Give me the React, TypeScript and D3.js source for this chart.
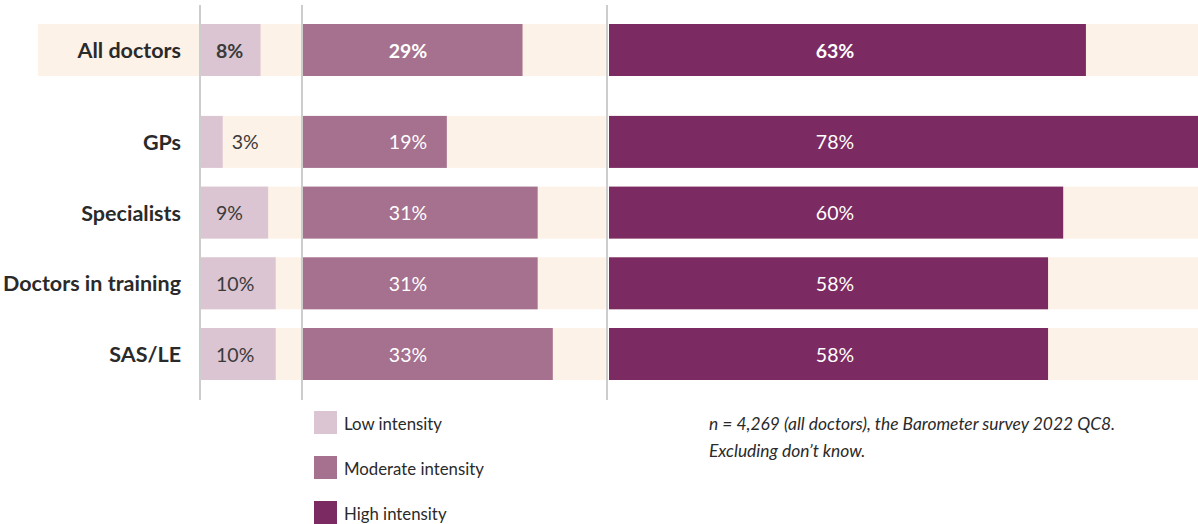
import React from "react";
import * as d3 from "d3";

const categories = ["All doctors", "GPs", "Specialists", "Doctors in training", "SAS/LE"];
const lowValues = [8, 3, 9, 10, 10];
const moderateValues = [29, 19, 31, 31, 33];
const highValues = [63, 78, 60, 58, 58];
const seriesNames = ["Low intensity", "Moderate intensity", "High intensity"];
const panelMax = [13.4, 40, 78];
const note = ["n = 4,269 (all doctors), the Barometer survey 2022 QC8.", "Excluding don\u2019t know."];

const COLORS = ["#dbc5d2", "#a5718e", "#7b2a62"];
const BG = "#fdf2e7";
const FONT = "Lato, 'Noto Sans', sans-serif";

export default function App() {
  const W = 1198, H = 524;
  const pxPerPct = 7.57;
  const panelStarts = [200, 303, 609];
  const scales = panelMax.map((m, i) =>
    d3.scaleLinear().domain([0, m]).range([panelStarts[i], panelStarts[i] + m * pxPerPct])
  );
  const rowPos = categories.map((_, i) => (i === 0 ? 0 : i + 0.3));
  const y = d3.scaleLinear().domain([0, 4.3]).range([24, 328]);
  const barH = 52;
  const series = [lowValues, moderateValues, highValues];
  const dividers = [200, 302, 607];
  const textColorLow = "#3a3a3a";

  return (
    <svg width={W} height={H} style={{ position: "absolute", left: 0, top: 0, display: "block" }} fontFamily={FONT}>
      <rect x={0} y={0} width={W} height={H} fill="#fff" />
      <rect x={38} y={y(0)} width={162} height={barH} fill={BG} />
      {categories.map((c, i) => {
        const top = y(rowPos[i]);
        const cy = top + barH / 2;
        const bold = i === 0;
        return (
          <g key={c}>
            {series.map((vals, s) => {
              const sc = scales[s];
              const x0 = sc(0);
              return (
                <g key={s}>
                  <rect x={x0} y={top} width={sc(panelMax[s]) - x0} height={barH} fill={BG} />
                  <rect x={x0} y={top} width={sc(vals[i]) - x0} height={barH} fill={COLORS[s]} />
                </g>
              );
            })}
            <text x={181} y={cy} textAnchor="end" dominantBaseline="central" fontWeight={700} fontSize={21.5} fill="#2a2a2a">
              {c}
            </text>
            {(() => {
              const end = scales[0](lowValues[i]);
              const inside = end - scales[0](0) > 40;
              return (
                <text
                  x={inside ? 216 : end + 9}
                  y={cy}
                  dominantBaseline="central"
                  fontSize={19.5}
                  fontWeight={bold ? 700 : 400}
                  fill={textColorLow}
                >
                  {lowValues[i]}%
                </text>
              );
            })()}
            <text x={408} y={cy} textAnchor="middle" dominantBaseline="central" fontSize={19.5} fontWeight={bold ? 700 : 400} fill="#fff">
              {moderateValues[i]}%
            </text>
            <text x={835} y={cy} textAnchor="middle" dominantBaseline="central" fontSize={19.5} fontWeight={bold ? 700 : 400} fill="#fff">
              {highValues[i]}%
            </text>
          </g>
        );
      })}
      {dividers.map((x) => (
        <line key={x} x1={x} x2={x} y1={5} y2={400} stroke="#cdcdcd" strokeWidth={2} />
      ))}
      {seriesNames.map((n, i) => (
        <g key={n} transform={`translate(314, ${411 + i * 45})`}>
          <rect x={0} y={0} width={23} height={23} fill={COLORS[i]} />
          <text x={30} y={12} dominantBaseline="central" fontSize={16.8} fill="#2a2a2a">
            {n}
          </text>
        </g>
      ))}
      {note.map((t, i) => (
        <text key={i} x={709} y={423 + i * 27} dominantBaseline="central" fontSize={17.4} fontStyle="italic" fill="#2a2a2a">
          {t}
        </text>
      ))}
    </svg>
  );
}
